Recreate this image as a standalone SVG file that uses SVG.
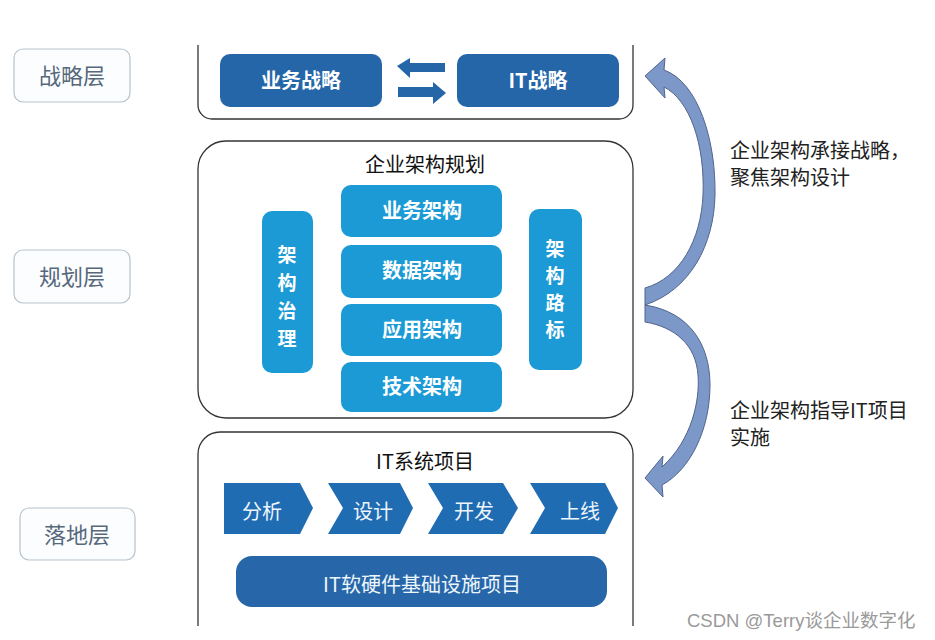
<svg xmlns="http://www.w3.org/2000/svg" width="935" height="640" viewBox="0 0 935 640">
<style>
text{font-family:"Noto Sans CJK SC","Noto Sans",sans-serif}
.lay{fill:#fbfdfe;stroke:#b7c3cc;stroke-width:1.2}
.layt{fill:#56687b;font-size:22px;text-anchor:middle}
.cont{fill:#fff;stroke:#333;stroke-width:1.3}
.dk{fill:#2566a9}
.lt{fill:#1b9ad6}
.chev{fill:#1f6cb3}
.wt{fill:#fff;font-size:20px;font-weight:bold;text-anchor:middle}
.vt{fill:#fff;font-size:19px;font-weight:bold;text-anchor:middle}
.wn{fill:#eef6fc;font-size:20px;text-anchor:middle}
.bt{fill:#111;font-size:20px;text-anchor:middle}
.rt{fill:#222;font-size:20px}
.carr{fill:#7c98c8;stroke:#51648c;stroke-width:1}
</style>
<defs>
<clipPath id="c1"><rect x="190" y="45" width="460" height="90"/></clipPath>
<clipPath id="c3"><rect x="190" y="425" width="460" height="201"/></clipPath>
</defs>
<rect width="935" height="640" fill="#fff"/>

<g id="layer-strategy"><rect class="lay" x="14" y="49" width="116" height="53" rx="9"/><text class="layt" x="72" y="84">战略层</text></g>
<g id="layer-planning"><rect class="lay" x="14" y="250" width="116" height="53" rx="9"/><text class="layt" x="72" y="285">规划层</text></g>
<g id="layer-landing"><rect class="lay" x="20" y="508" width="115" height="52" rx="9"/><text class="layt" x="77" y="543">落地层</text></g>

<g id="strategy-container"><rect class="cont" x="198" y="30" width="435" height="89" rx="14" clip-path="url(#c1)"/></g>
<g id="biz-strategy"><rect class="dk" x="220" y="54" width="162" height="53" rx="10"/><text class="wt" x="301" y="88">业务战略</text></g>
<g id="it-strategy"><rect class="dk" x="457" y="54" width="162" height="53" rx="10"/><text class="wt" x="538" y="88">IT战略</text></g>

<g id="planning-container"><rect class="cont" x="198" y="141" width="435" height="277" rx="28"/><text class="bt" x="425" y="172">企业架构规划</text></g>
<g id="biz-arch"><rect class="lt" x="341" y="185" width="161" height="52" rx="10"/><text class="wt" x="422" y="218">业务架构</text></g>
<g id="data-arch"><rect class="lt" x="341" y="245" width="161" height="53" rx="10"/><text class="wt" x="422" y="278">数据架构</text></g>
<g id="app-arch"><rect class="lt" x="341" y="304" width="161" height="52" rx="10"/><text class="wt" x="422" y="337">应用架构</text></g>
<g id="tech-arch"><rect class="lt" x="341" y="362" width="161" height="50" rx="10"/><text class="wt" x="422" y="394">技术架构</text></g>
<g id="governance"><rect class="lt" x="262" y="211" width="51" height="162" rx="10"/>
<text class="vt" x="287" y="262">架</text><text class="vt" x="287" y="290">构</text><text class="vt" x="287" y="318">治</text><text class="vt" x="287" y="346">理</text></g>
<g id="roadmap"><rect class="lt" x="529" y="209" width="53" height="161" rx="10"/>
<text class="vt" x="555" y="256">架</text><text class="vt" x="555" y="283">构</text><text class="vt" x="555" y="310">路</text><text class="vt" x="555" y="337">标</text></g>

<g id="landing-container"><rect class="cont" x="198" y="432" width="435" height="230" rx="22" clip-path="url(#c3)"/><text class="bt" x="425" y="469">IT系统项目</text></g>
<g id="analysis"><path class="chev" d="M224,483 H300 L313,508 L300,534 H224 Z"/><text class="wn" x="262" y="519">分析</text></g>
<g id="design"><path class="chev" d="M328,483 H400 L413,508 L400,534 H328 L343,508 Z"/><text class="wn" x="373" y="519">设计</text></g>
<g id="develop"><path class="chev" d="M428,483 H503 L518,508 L503,534 H428 L443,508 Z"/><text class="wn" x="474" y="519">开发</text></g>
<g id="golive"><path class="chev" d="M530,483 H605 L618,508 L605,534 H530 L545,508 Z"/><text class="wn" x="580" y="519">上线</text></g>
<g id="infra"><rect x="236" y="556" width="371" height="51" rx="16" fill="#2767a9"/><text class="wn" x="422" y="592">IT软硬件基础设施项目</text></g>

<g id="connectors">
<path class="dk" d="M397,66 L410,58 V63 H445 V72 H410 V78 Z"/>
<path class="dk" d="M446,93 L433,82 V87 H398 V97 H433 V104 Z"/>
<path class="carr" d="M645,76 L665,58 L664,70 C698,82 716,140 715,195 C714,245 690,290 645,305 L645,288 C680,278 701,240 703,195 C705,145 690,100 664,87 L665,98 Z"/>
<path class="carr" d="M645,478 L663,456 L662,467 C692,440 700,400 698,375 C696,345 675,327 645,322 L645,305 C690,312 710,345 710,385 C710,430 690,470 662,485 L663,497 Z"/>
</g>

<g id="notes">
<text class="rt" x="730" y="158">企业架构承接战略，</text>
<text class="rt" x="730" y="185">聚焦架构设计</text>
<text class="rt" x="730" y="418">企业架构指导IT项目</text>
<text class="rt" x="730" y="445">实施</text>
<text x="687" y="627" fill="#9a9a9a" font-size="18.5" style="font-family:'Liberation Sans','Noto Sans CJK SC',sans-serif">CSDN @Terry谈企业数字化</text>
</g>
</svg>
